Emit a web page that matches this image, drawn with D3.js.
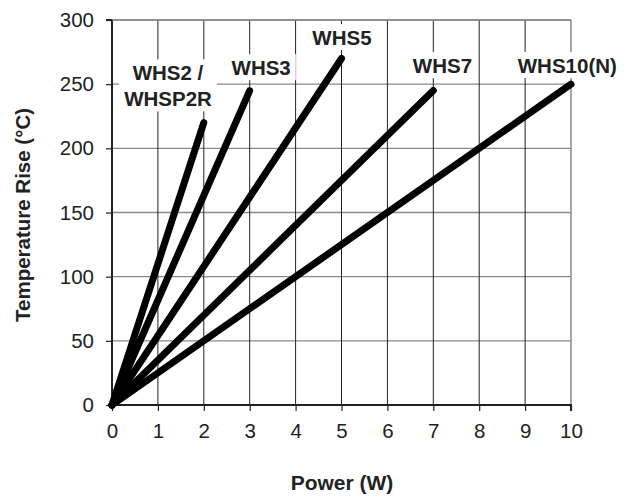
<!DOCTYPE html>
<html><head><meta charset="utf-8">
<script src="https://cdn.jsdelivr.net/npm/d3@7"></script>
<style>body{margin:0;background:#fff}svg{display:block}</style>
</head><body>
<script>
const seriesNames = ["WHS2 /\nWHSP2R", "WHS3", "WHS5", "WHS7", "WHS10(N)"];
const maxPower = [2, 3, 5, 7, 10];
const maxTemp = [220, 245, 270, 245, 250];
const xTicks = [0,1,2,3,4,5,6,7,8,9,10];
const yTicks = [0,50,100,150,200,250,300];
const labelPos = [[1.22,253],[3.25,257],[5.01,280.5],[7.2,258.7],[9.92,258.7]];

const W = 629, H = 496;
const svg = d3.select("body").append("svg").attr("width", W).attr("height", H)
  .style("font-family", "'Liberation Sans', Arial, sans-serif");
const x = d3.scaleLinear().domain([0,10]).range([112, 571]);
const y = d3.scaleLinear().domain([0,300]).range([405, 20]);

// horizontal grid
svg.append("g").selectAll("line").data(yTicks.filter(d=>d>0)).join("line")
  .attr("x1", x(0)).attr("x2", x(10)).attr("y1", d=>y(d)).attr("y2", d=>y(d))
  .attr("stroke", "#8a8a8a").attr("stroke-width", 1.3);
// vertical grid
svg.append("g").selectAll("line").data(xTicks.filter(d=>d>0 && d<10)).join("line")
  .attr("x1", d=>x(d)).attr("x2", d=>x(d)).attr("y1", y(0)).attr("y2", y(300))
  .attr("stroke", "#222").attr("stroke-width", 1);
svg.append("line").attr("x1", x(10)).attr("x2", x(10)).attr("y1", y(0)).attr("y2", y(300))
  .attr("stroke", "#8a8a8a").attr("stroke-width", 1.5);

// label backgrounds + labels
const lg = svg.append("g").attr("font-weight", "bold").attr("font-size", 20.5).attr("fill", "#222");
seriesNames.forEach((name, i) => {
  const lines = name.split("\n");
  const cx = x(labelPos[i][0]);
  const by = y(labelPos[i][1]);
  const t = lg.append("text").attr("text-anchor", "middle");
  lines.forEach((l, j) => t.append("tspan").attr("x", cx).attr("y", by + j*26).text(l));
  const bb = t.node().getBBox();
  lg.insert("rect", "text").attr("x", bb.x - 5).attr("y", bb.y - 2)
    .attr("width", bb.width + 10).attr("height", bb.height + 3).attr("fill", "#fff");
});

// axes
const xa = svg.append("g").attr("transform", `translate(0,${y(0)})`)
  .call(d3.axisBottom(x).tickValues(xTicks).tickSize(6).tickPadding(12));
const ya = svg.append("g").attr("transform", `translate(${x(0)},0)`)
  .call(d3.axisLeft(y).tickValues(yTicks).tickSize(6).tickPadding(12));
[xa, ya].forEach(a => {
  a.select(".domain").attr("stroke", "#222").attr("stroke-width", 2);
  a.selectAll(".tick line").attr("stroke", "#222").attr("stroke-width", 1.2);
  a.selectAll(".tick text").attr("font-size", 20.5).attr("fill", "#222")
    .attr("font-family", "'Liberation Sans', Arial, sans-serif");
});
ya.select(".domain").attr("d", `M-6,${y(300)}H0V${y(0)}`);
xa.select(".domain").attr("d", `M0,0H${x(10)-x(0)}V6`).attr("transform", `translate(${x(0)},0)`);
svg.append("line").attr("x1", x(0)).attr("x2", x(10)).attr("y1", y(300)).attr("y2", y(300))
  .attr("stroke", "#8a8a8a").attr("stroke-width", 1.5);

// series lines
const line = d3.line().x(d=>x(d[0])).y(d=>y(d[1]));
svg.append("g").selectAll("path").data(maxPower.map((p,i)=>[[0,0],[p,maxTemp[i]]])).join("path")
  .attr("d", line).attr("fill", "none").attr("stroke", "#000").attr("stroke-width", 7)
  .attr("stroke-linecap", "round");

// titles
svg.append("text").attr("x", 342).attr("y", 490).attr("text-anchor", "middle")
  .attr("font-weight", "bold").attr("font-size", 21).attr("fill", "#222").text("Power (W)");
svg.append("text").attr("transform", "translate(30,215) rotate(-90)").attr("text-anchor", "middle")
  .attr("font-weight", "bold").attr("font-size", 20.5).attr("fill", "#222").text("Temperature Rise (°C)");
</script>
</body></html>
